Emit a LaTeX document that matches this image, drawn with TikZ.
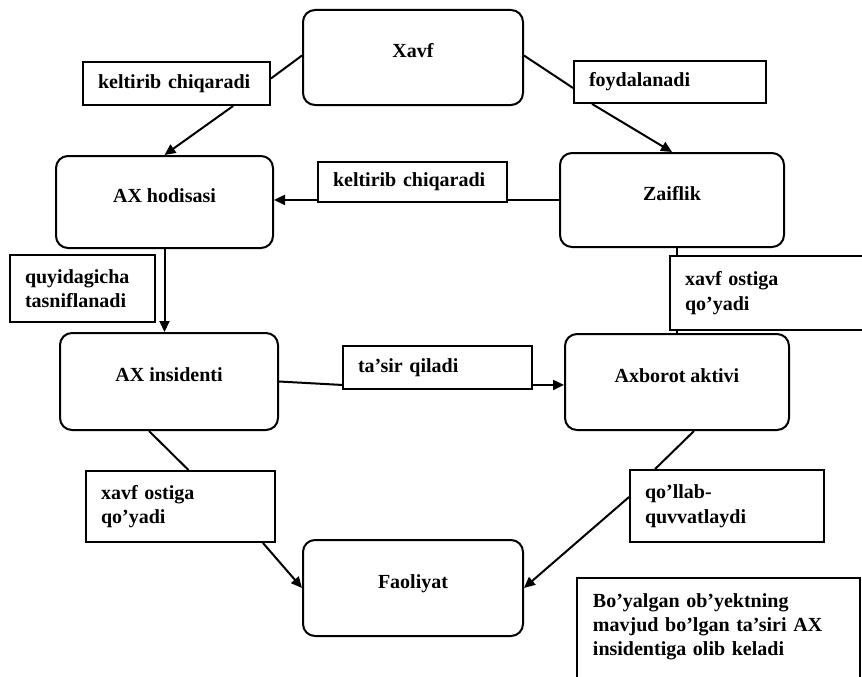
\documentclass[tikz,border=0pt]{standalone}
\usepackage{fontspec}
\setmainfont{Liberation Serif}
\usetikzlibrary{arrows.meta,calc}

\begin{document}
\begin{tikzpicture}[x=1pt,y=-1pt,
  box/.style={draw, line width=2pt, rounded corners=12pt,
    font=\bfseries\fontsize{20}{24.5}\selectfont,
    text height=10pt, text depth=10pt},
  lbl/.style={draw, line width=1.9pt, align=left, inner xsep=15pt,
    font=\bfseries\fontsize{20}{24.5}\selectfont},
  notebox/.style={draw, line width=1.9pt, anchor=north west, align=left,
    text width=251pt, inner xsep=16pt, inner ysep=16pt, text depth=60pt,
    font=\bfseries\fontsize{20}{24}\selectfont},
  conn/.style={line width=2pt},
  arr/.style={-{Triangle[length=11pt,width=10pt]}}]

\useasboundingbox (0,0) rectangle (862,677);

% main entities
\node[box, minimum width=220pt, minimum height=95pt] (xavf) at (413,57.5) {Xavf};
\node[box, minimum width=217pt, minimum height=92pt] (hod)  at (164.5,202) {AX hodisasi};
\node[box, minimum width=224pt, minimum height=94pt] (zaif) at (672,200) {Zaiflik};
\node[box, minimum width=218pt, minimum height=97pt] (ins)  at (169,381.5) {AX insidenti};
\node[box, minimum width=224pt, minimum height=96pt] (akt)  at (677,382) {Axborot aktivi};
\node[box, minimum width=220pt, minimum height=96pt] (faol) at (413,588) {Faoliyat};

% relation labels
\node[lbl, minimum width=187pt, text width=157pt, minimum height=43pt] (kc1) at (176.5,83.5) {keltirib chiqaradi};
\node[lbl, minimum width=192pt, text width=162pt, minimum height=42pt] (foyd) at (670,82) {foydalanadi};
\node[lbl, minimum width=189pt, text width=159pt, minimum height=40pt] (kc2) at (412.5,182) {keltirib chiqaradi};
\node[lbl, minimum width=145pt, text width=115pt, minimum height=67pt] (quy) at (82.5,288.5) {quyidagicha\\tasniflanadi};
\node[lbl, minimum width=200pt, text width=170pt, minimum height=74pt] (xo1) at (770,293) {xavf ostiga\\qo’yadi};
\node[lbl, minimum width=189pt, text width=159pt, minimum height=43pt] (tq) at (437.5,367.5) {ta’sir qiladi};
\node[lbl, minimum width=189pt, text width=159pt, minimum height=71pt] (xo2) at (180.5,506.5) {xavf ostiga\\qo’yadi};
\node[lbl, minimum width=194pt, text width=164pt, minimum height=72pt] (ql) at (727,506) {qo’llab-\\quvvatlaydi};

% note
\node[notebox] (note) at (576,577) {Bo’yalgan ob’yektning\\mavjud bo’lgan ta’siri AX\\insidentiga olib keladi};

% connectors
\draw[conn] ($(xavf.west)+(0,-2)$) -- ($(kc1.east)+(0,-5)$);
\draw[conn,arr] ($(kc1.south west)!0.8!(kc1.south east)$) -- (hod.north);

\draw[conn] ($(xavf.east)+(0,-2)$) -- ($(foyd.west)+(0,6)$);
\draw[conn,arr] ($(foyd.south west)+(19,0)$) -- (zaif.north);

\coordinate (m) at ($(kc2.south west)+(0,-3)$);
\draw[conn,arr] (m) -- (m -| hod.east);
\draw[conn] (m -| kc2.east) -- (m -| zaif.west);

\draw[conn,arr] (hod.south) -- (hod.south |- ins.north);

\coordinate (v) at ($(xo1.north west)+(8,0)$);
\draw[conn] (v) -- (v |- zaif.south);
\draw[conn] (v |- xo1.south) -- (v |- akt.north);

\coordinate (t) at ($(tq.south west)+(0,-5)$);
\draw[conn] (ins.east) -- (t);
\draw[conn,arr] (t -| tq.east) -- (t -| akt.west);

\draw[conn] ($(ins.south)+(-20,0)$) -- ($(xo2.north)+(8,0)$);
\draw[conn,arr] ($(xo2.south east)+(-13,0)$) -- (faol.west);

\draw[conn] ($(akt.south)+(17,0)$) -- ($(ql.north west)+(26,0)$);
\draw[conn,arr] ($(ql.west)+(0,-9)$) -- (faol.east);

\end{tikzpicture}
\end{document}
